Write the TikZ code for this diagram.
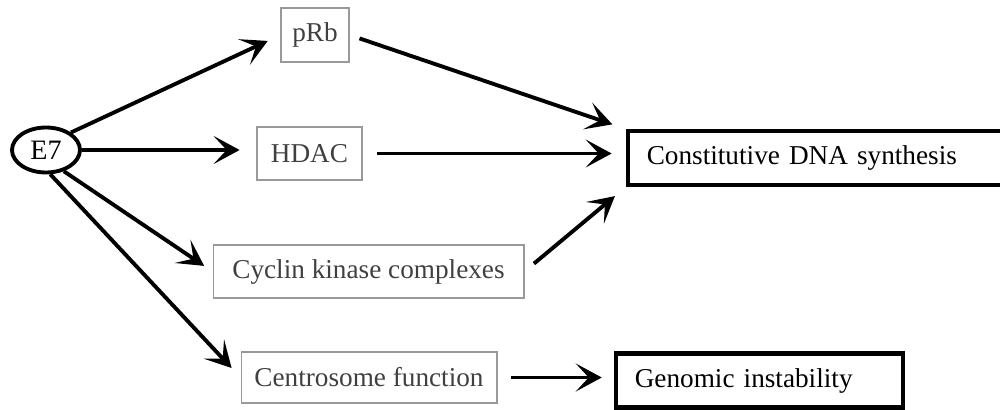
\documentclass[tikz,border=0pt]{standalone}
\usepackage{fontspec}
\setmainfont{Liberation Serif}
\usetikzlibrary{arrows.meta, positioning, shapes.geometric}

\begin{document}
\begin{tikzpicture}[x=0.02cm, y=-0.02cm,
    thinbox/.style={draw=gray!80, line width=0.6pt, minimum height=1.06cm, font=\fontsize{15.5}{18}\selectfont, text=black!75},
    boldbox/.style={draw, line width=2.4pt, minimum height=1.08cm, inner xsep=10.8pt, align=left, font=\fontsize{15.5}{18}\selectfont},
    arrow/.style={-{Stealth[length=5.2mm, width=5.6mm, inset=2.6mm]}, line width=2.2pt}
]
    \clip (0,0) rectangle (1000,409);

    \node[ellipse, draw, line width=2.2pt, minimum width=1.36cm, minimum height=0.9cm, inner sep=0pt, font=\fontsize{16}{18}\selectfont] (e7) at (46,150) {E7};

    \node[thinbox, minimum width=1.36cm, minimum height=1.08cm] (prb) at (315,35) {pRb};
    \node[thinbox, minimum width=2.1cm] (hdac) at (309.5,153.5) {HDAC};
    \node[thinbox, minimum width=6.22cm] (cyclin) at (368.5,271.5) {Cyclin kinase complexes};
    \node[thinbox, minimum width=5.12cm, minimum height=1.02cm] (centro) at (369,377.5) {Centrosome function};

    \node[boldbox, text width=6.91cm] (dna) at (819.5,158) {Constitutive DNA synthesis};
    \node[boldbox, text width=4.99cm] (genomic) at (759.5,380.5) {Genomic instability};

    % from E7
    \draw[arrow, shorten >=8pt] (e7.35) -- (prb.west);
    \draw[arrow, shorten >=9.6pt] (e7.east) -- (e7.east -| hdac.west);
    \draw[arrow, shorten >=5.7pt] (e7.-50) -- (cyclin.west);
    \draw[arrow, shorten >=7.4pt] (e7.-80) -- (centro.west);

    % to the outcomes
    \draw[arrow, shorten <=6pt, shorten >=8pt] (prb.east) -- (dna.north west);
    \draw[arrow, shorten <=8.5pt, shorten >=8pt] (hdac.east) -- (hdac.east -| dna.west);
    \draw[arrow, shorten <=7pt, shorten >=8pt] (cyclin.east) -- (dna.south west);
    \draw[arrow, shorten <=7.4pt, shorten >=6.8pt] (centro.east) -- (centro.east -| genomic.west);
\end{tikzpicture}
\end{document}
